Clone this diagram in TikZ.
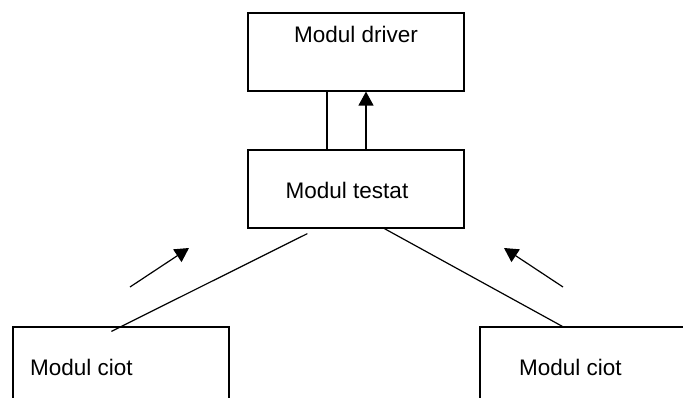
\documentclass[tikz,border=0pt]{standalone}
\usepackage{fontspec}
\setmainfont{Liberation Sans}
\usetikzlibrary{arrows.meta}

\begin{document}
\begin{tikzpicture}[
  x=1pt, y=-1pt,
  every node/.style={font=\fontsize{22.5}{27}\selectfont},
  modul/.style={draw, line width=1.2pt, inner sep=0pt, minimum height=78pt},
  stub/.style={modul, minimum width=216pt, minimum height=140pt},
  txt/.style={inner sep=0pt},
  link/.style={line width=1.2pt},
  flow/.style={link, -{Triangle[width=15pt,length=14pt]}}
]
\clip (0,0) rectangle (683,398);

\node[modul, minimum width=216pt] (driver) at (356,52) {};
\node[txt, anchor=base] (drivertxt) at (356,43) {Modul driver};
\node[modul, minimum width=216pt] (testat) at (356,189) {};
\node[txt, anchor=base] (testattxt) at (347,199) {Modul testat};

\node[stub] (ciotL) at (121,397) {};
\node[txt, anchor=base west] (ciotLtxt) at (30,375) {Modul ciot};
\node[stub, minimum width=260pt] (ciotR) at (610,397) {};
\node[txt, anchor=base west] (ciotRtxt) at (519,375) {Modul ciot};

% driver <-> testat
\draw[link] ([xshift=-29pt]testat.north) -- ([xshift=-29pt]driver.south);
\draw[flow] ([xshift=10pt]testat.north) -- ([xshift=10pt]driver.south);

% testat -- ciot
\draw[link] ([xshift=60pt,yshift=-5pt]testat.south west) -- ([xshift=99pt,yshift=-5pt]ciotL.north west);
\draw[link] ([xshift=137pt]testat.south west) -- ([xshift=83pt]ciotR.north west);

% direction arrows
\coordinate (aLs) at (130,287);
\coordinate (aLe) at (189,248);
\coordinate (aRs) at (563,287);
\coordinate (aRe) at (504,248);
\draw[flow] (aLs) -- (aLe);
\draw[flow] (aRs) -- (aRe);
\end{tikzpicture}
\end{document}
